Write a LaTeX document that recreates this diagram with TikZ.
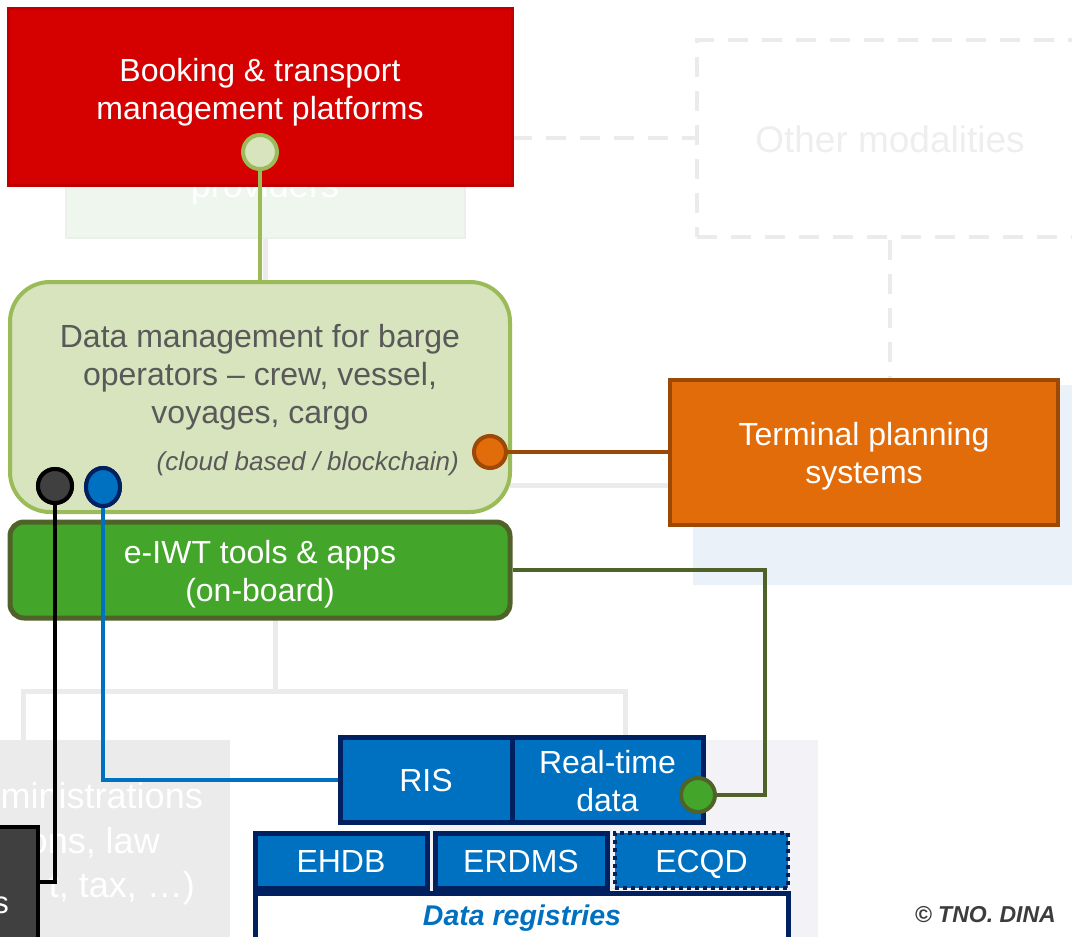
\documentclass[tikz,border=0pt]{standalone}
\usepackage{fontspec}
\setmainfont{Liberation Sans}
\usetikzlibrary{shapes.geometric}

\definecolor{bookred}{HTML}{D50000}
\definecolor{bookredd}{HTML}{C00000}
\definecolor{dmfill}{HTML}{D7E4BD}
\definecolor{dmline}{HTML}{9BBB59}
\definecolor{dmtext}{HTML}{595959}
\definecolor{termfill}{HTML}{E36C0A}
\definecolor{termline}{HTML}{9C4806}
\definecolor{appfill}{HTML}{43A62B}
\definecolor{appline}{HTML}{4F6228}
\definecolor{risblue}{HTML}{0070C0}
\definecolor{navy}{HTML}{002060}
\definecolor{darkbox}{HTML}{404040}
\definecolor{faint}{HTML}{EBEBEB}
\definecolor{faintgreen}{HTML}{EFF6EE}
\definecolor{faintblue}{HTML}{EBF1F9}
\definecolor{faintlav}{HTML}{F3F2F7}
\definecolor{copytext}{HTML}{3C3C3C}

\newcommand{\setfs}[2]{\fontsize{#1}{#2}\selectfont}

\begin{document}
\begin{tikzpicture}[x=1pt,y=-1pt,
  txt/.style={inner sep=0pt, align=center, text=white, font=\setfs{32}{38}},
  fainttxt/.style={inner sep=0pt, text=white, font=\setfs{36}{44}},
  plainbox/.style={rectangle, inner sep=0pt},
  faintline/.style={draw=faint, line width=5pt},
  faintdash/.style={draw=faint, line width=4pt, dash pattern=on 20pt off 14pt},
  link/.style={line width=4pt},
  dot/.style={circle, inner sep=0pt, minimum size=34pt, line width=4pt},
  bluebox/.style={rectangle, fill=risblue, draw=navy, line width=5pt, inner sep=0pt,
    text=white, font=\setfs{32}{38}, align=center, text height=23pt, text depth=0pt},
]
\useasboundingbox (0,0) rectangle (1072,937);
\clip (0,0) rectangle (1072,937);

% ---------- faded background layer ----------
\node[plainbox, fill=faintgreen, draw=faint!60!faintgreen, line width=2pt,
      minimum width=399pt, minimum height=100pt] (prov) at (265.5,188) {};
\node[fainttxt, anchor=base] (provtxt) at (265,197) {providers};

\node[plainbox, fill=faintblue, minimum width=410pt, minimum height=200pt] (fblue) at (898,485) {};

\node[plainbox, draw=faint, line width=4pt, dash pattern=on 20pt off 14pt,
      minimum width=420pt, minimum height=197pt] (other) at (907,138.5) {};
\node[inner sep=0pt, text=faint!85!white, font=\setfs{37}{44}] (othertxt) at (890,139) {Other modalities};

\node[plainbox, fill=faint, minimum width=260pt, minimum height=230pt] (admin) at (100,855) {};
\node[fainttxt, anchor=base east] (adm1) at (203,808) {ministrations};
\node[fainttxt, anchor=base east] (adm2) at (160,853) {ons, law};
\node[fainttxt, anchor=base east] (adm3) at (195,897) {t, tax, \dots)};

\node[plainbox, fill=faintlav, minimum width=388pt, minimum height=220pt] (lav) at (624,850) {};

\coordinate (treel) at (23,691);
\coordinate (treer) at (625,691);
\draw[faintline] (prov.south -| 265,0) -- (265,290);
\draw[faintline] (275,618) -- (275,691);
\draw[faintline] (treel |- admin.north) -- (treel) -- (treer) -- (treer |- lav.north);
\draw[faintline] (510,485) -- (680,485);
\draw[faintdash] (512,138) -- (other.west |- 0,138);
\draw[faintdash] (890,240) -- (890,385);

% ---------- top: booking platforms ----------
\node[plainbox, fill=bookred, draw=bookredd, line width=3pt,
      minimum width=504pt, minimum height=177pt] (book) at (260,96.5) {};
\node[txt] (booktxt) at (260,92) {Booking \& transport\\management platforms};

% ---------- data management ----------
\node[plainbox, fill=dmfill, draw=dmline, line width=4pt, rounded corners=40pt,
      minimum width=500pt, minimum height=230pt] (dm) at (260,397) {};
\node[txt, text=dmtext] (dmtxt) at (260,377)
  {Data management for barge\\operators -- crew, vessel,\\voyages, cargo};
\node[inner sep=0pt, text=dmtext, font=\setfs{26}{30}\itshape, anchor=east] (dmnote) at (459,464)
  {(cloud based / blockchain)};

\node[dot, fill=dmfill, draw=dmline] (cbook) at (260,152) {};
\draw[link, dmline] (cbook.south) -- (cbook.south |- dm.north);

% ---------- terminal planning ----------
\node[plainbox, fill=termfill, draw=termline, line width=4.5pt,
      minimum width=388pt, minimum height=145pt] (term) at (864,452.5) {};
\node[txt] (termtxt) at (864,456) {Terminal planning\\systems};
\node[dot, minimum size=32pt, fill=termfill, draw=termline] (cterm) at (490,452) {};
\draw[link, termline] (cterm.east) -- (cterm.east -| term.west);

% ---------- on-board tools ----------
\node[plainbox, fill=appfill, draw=appline, line width=5pt, rounded corners=14pt,
      minimum width=500pt, minimum height=96pt] (app) at (260,570) {};
\node[txt] (apptxt) at (260,574) {e-IWT tools \& apps\\(on-board)};

% ---------- dark box at the lower left ----------
\node[plainbox, fill=darkbox, draw=black, line width=4.5pt,
      minimum width=80pt, minimum height=130pt] (dark) at (-2,892) {};
\node[inner sep=0pt, text=white, font=\setfs{31}{38}, anchor=base east] (darktxt) at (9,913) {s};

% ---------- data registries ----------
\node[bluebox, minimum width=172pt, minimum height=85pt] (ris) at (426,779.5) {RIS};
\node[plainbox, fill=risblue, draw=navy, line width=5pt,
      minimum width=191pt, minimum height=85pt] (rt) at (607.5,779.5) {};
\node[txt] (rttxt) at (607.5,781) {Real-time\\data};
\node[bluebox, minimum width=172pt, minimum height=55pt] (ehdb) at (341,860.5) {EHDB};
\node[bluebox, minimum width=172pt, minimum height=55pt] (erdms) at (521,860.5) {ERDMS};
\node[bluebox, dash pattern=on 4pt off 4pt, line width=4pt,
      minimum width=173pt, minimum height=55pt] (ecqd) at (701.5,860.5) {ECQD};
\node[plainbox, fill=white, draw=navy, line width=5pt,
      minimum width=533pt, minimum height=52pt] (reg) at (521.5,919) {};
\node[inner sep=0pt, text=risblue, font=\setfs{28.5}{32}\bfseries\itshape] (regtxt) at (522,918) {Data registries};

% ---------- links from the data management circles ----------
\node[dot, fill=darkbox, draw=black] (cdark) at (55,486) {};
\node[ellipse, inner sep=0pt, minimum width=34pt, minimum height=38pt, line width=4pt,
      fill=risblue, draw=navy] (cblue) at (103,487) {};
\coordinate (kturn) at (55,882);
\draw[link, black] (cdark.south) -- (kturn) -- (kturn -| dark.east);
\draw[link, risblue] (cblue.south) |- (ris.west);
\node[dot, fill=appfill, draw=appline] (cgreen) at (698,795) {};
\coordinate (gturn) at (765,570);
\draw[link, appline] (app.east) -- (gturn) |- (cgreen.east);
% redraw the circles on top of their lines
\node[dot, fill=darkbox, draw=black] at (cdark) {};
\node[ellipse, inner sep=0pt, minimum width=34pt, minimum height=38pt, line width=4pt,
      fill=risblue, draw=navy] at (cblue) {};

% ---------- credit ----------
\node[inner sep=0pt, text=copytext, font=\setfs{23}{26}\bfseries\itshape, anchor=east] (credit)
  at (1056,915) {\textcopyright{} TNO. DINA};
\end{tikzpicture}
\end{document}
